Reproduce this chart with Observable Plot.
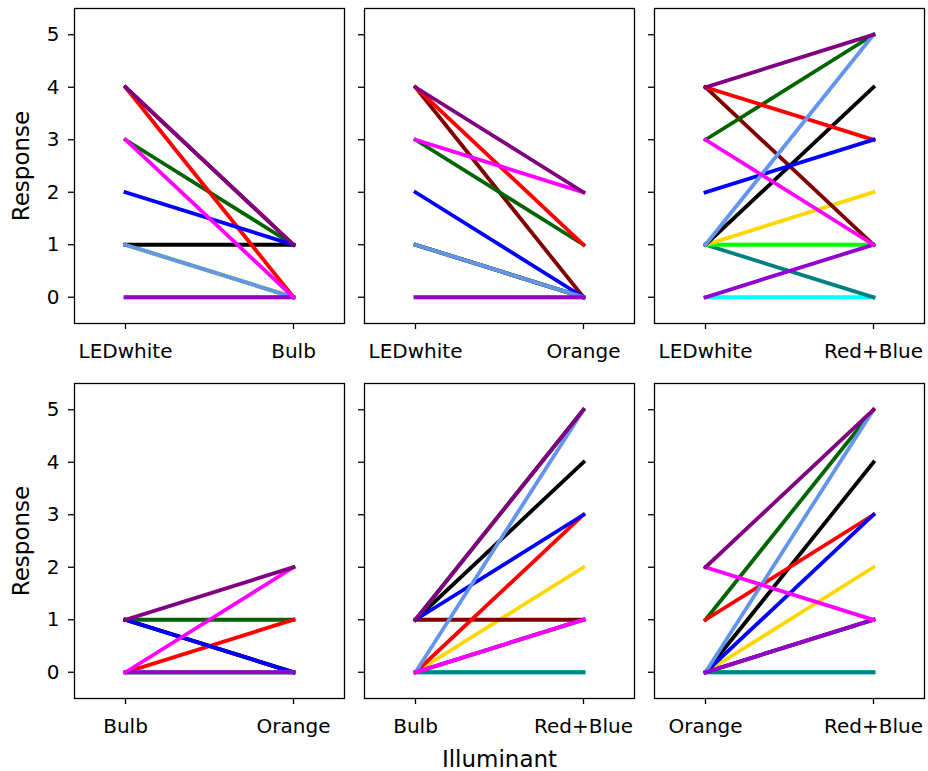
<!DOCTYPE html>
<html><head><meta charset="utf-8">
<script src="https://cdn.jsdelivr.net/npm/d3@7"></script>
<script src="https://cdn.jsdelivr.net/npm/@observablehq/plot@0.6"></script>
<style>
html,body{margin:0;padding:0;background:#fff;}
#chart{position:relative;width:928px;height:771px;font-family:"DejaVu Sans",sans-serif;overflow:hidden;}
#chart svg{position:absolute;}
</style></head><body><div id="chart"></div>
<script>
// ---- data ----
const illuminants = ["LEDwhite", "Bulb", "Orange", "Red+Blue"];
// one colour per subject, in drawing order (later ones on top)
const subjectColors = ["#00FFFF", "#008080", "#00FF00", "#FFD700", "#800000", "#000000",
                       "#006400", "#FF0000", "#0000FF", "#6495ED", "#9400D3", "#FF00FF", "#800080"];
const ledWhite = [0, 1, 1, 1, 4, 1, 3, 4, 2, 1, 0, 3, 4];
const bulb     = [0, 0, 0, 0, 1, 1, 1, 0, 1, 0, 0, 0, 1];
const orange   = [0, 0, 0, 0, 0, 0, 1, 1, 0, 0, 0, 2, 2];
const redBlue  = [0, 0, 1, 2, 1, 4, 5, 3, 3, 5, 1, 1, 5];
const responseTicks = [0, 1, 2, 3, 4, 5];
const panelPairs = [
  ["LEDwhite", "Bulb"], ["LEDwhite", "Orange"], ["LEDwhite", "Red+Blue"],
  ["Bulb", "Orange"], ["Bulb", "Red+Blue"], ["Orange", "Red+Blue"]
];
const yTitle = ["Response"];
const xTitle = ["Illuminant"];

const valuesByIlluminant = {"LEDwhite": ledWhite, "Bulb": bulb, "Orange": orange, "Red+Blue": redBlue};

// ---- layout ----
const colX = [74, 364, 654];
const rowY = [8, 383];
const frameW = 270, frameH = 315;
const chart = document.getElementById("chart");

panelPairs.forEach((pair, k) => {
  const r = Math.floor(k / 3), c = k % 3;
  const rows = [];
  subjectColors.forEach((color, i) => {
    pair.forEach(ill => rows.push({subject: i, color, illuminant: ill, value: valuesByIlluminant[ill][i]}));
  });
  const ml = c === 0 ? 74 : 10, mr = 4, mt = r === 0 ? 8 : 4, mb = r === 0 ? 48 : 73;
  const marks = [
    Plot.line(rows, {x: "illuminant", y: "value", z: "subject", stroke: "color",
                     strokeWidth: 3.8, strokeLinecap: "square", strokeLinejoin: "miter"}),
    Plot.frame({stroke: "black", strokeWidth: 1.3}),
    Plot.axisX({tickSize: 6, tickPadding: 14, fontSize: 20, label: null, stroke: "black", strokeWidth: 1.3}),
    Plot.axisY({ticks: responseTicks, tickSize: 6, tickPadding: 9, fontSize: 20, label: null,
                stroke: "black", strokeWidth: 1.3,
                tickFormat: c === 0 ? (d => String(d)) : (() => "")})
  ];
  if (c === 0) marks.push(Plot.text(yTitle, {frameAnchor: "left", textAnchor: "middle", lineAnchor: "middle",
                                              rotate: -90, dx: -53, fontSize: 23, fill: "black"}));
  if (r === 1 && c === 1) marks.push(Plot.text(xTitle, {frameAnchor: "bottom", textAnchor: "middle", lineAnchor: "middle",
                                                         dy: 61, fontSize: 23, fill: "black"}));
  const svg = Plot.plot({
    width: ml + frameW + mr,
    height: mt + frameH + mb,
    marginLeft: ml, marginRight: mr, marginTop: mt, marginBottom: mb,
    x: {type: "point", domain: pair, padding: 0.3},
    y: {domain: [-0.5, 5.5]},
    color: {type: "identity"},
    style: {fontFamily: "'DejaVu Sans', sans-serif", color: "black", background: "white", overflow: "visible"},
    marks
  });
  svg.style.left = (colX[c] - ml) + "px";
  svg.style.top = (rowY[r] - mt) + "px";
  chart.appendChild(svg);
});
</script>
</body></html>
